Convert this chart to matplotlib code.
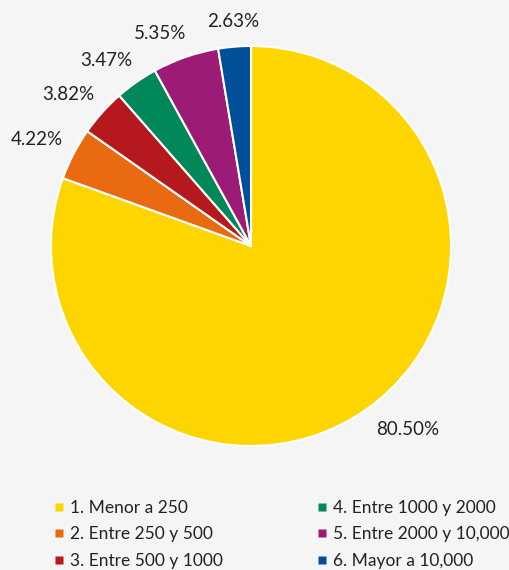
import matplotlib
matplotlib.use("Agg")
import matplotlib.pyplot as plt
import numpy as np
from matplotlib.lines import Line2D

categories = ["1. Menor a 250", "2. Entre 250 y 500", "3. Entre 500 y 1000",
              "4. Entre 1000 y 2000", "5. Entre 2000 y 10,000", "6. Mayor a 10,000"]
values = [80.50, 4.22, 3.82, 3.47, 5.35, 2.63]
labels = ["80.50%", "4.22%", "3.82%", "3.47%", "5.35%", "2.63%"]
colors = ["#FFD500", "#E96A10", "#B5191E", "#00875A", "#9B1B77", "#004F98"]

plt.rcParams['font.family'] = ['Lato', 'DejaVu Sans']
bg = "#F5F5F5"
fig = plt.figure(figsize=(5.09, 5.70), dpi=100, facecolor=bg)
ax = fig.add_axes([51/509, (570-446)/570, 400/509, 400/570])
ax.set_facecolor(bg)

wedges, _ = ax.pie(values, colors=colors, startangle=90, counterclock=False,
                   wedgeprops=dict(edgecolor="white", linewidth=1.5), radius=1)
ax.set_xlim(-1, 1); ax.set_ylim(-1, 1)
ax.set_aspect('auto')
ax.axis('off')

for w, lab in zip(wedges, labels):
    ang = np.deg2rad((w.theta1 + w.theta2) / 2)
    c, s = np.cos(ang), np.sin(ang)
    d = 1.1
    if abs(c) < 0.15:
        ha, off = 'center', (0, 5)
    elif c < 0:
        ha, off = 'right', (7, 5)
    else:
        ha, off = 'left', (-1, -3)
    ax.annotate(lab, (d * c, d * s), xytext=off, textcoords='offset pixels',
                ha=ha, va='center', fontsize=13.5, color="#222222",
                annotation_clip=False)

handles = [Line2D([0], [0], marker='s', linestyle='none', markersize=6,
                  markerfacecolor=col, markeredgecolor='none') for col in colors]
fig.legend(handles, categories, loc='upper left', bbox_to_anchor=(50/509, 1 - 500/570),
           ncol=2, frameon=False, fontsize=12.5, handletextpad=0.15, handlelength=1.0,
           columnspacing=5.2, labelspacing=0.6, borderaxespad=0, borderpad=0,
           labelcolor="#222222")

fig.savefig("out.png", dpi=100, facecolor=bg)
